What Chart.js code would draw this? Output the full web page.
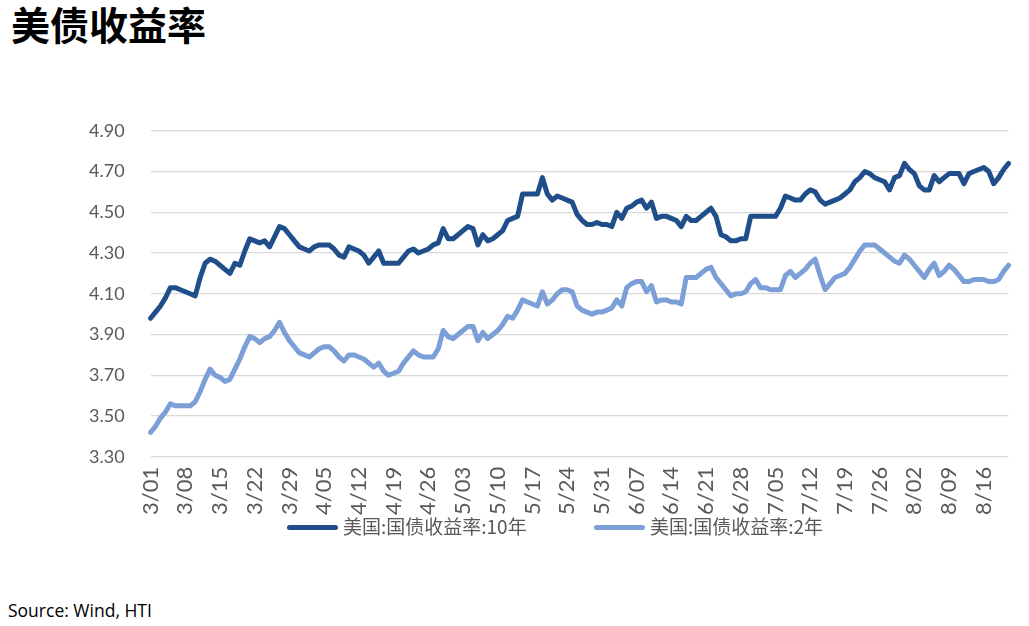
<!DOCTYPE html>
<html>
<head>
<meta charset="utf-8">
<script src="https://cdn.jsdelivr.net/npm/chart.js@4.4.1/dist/chart.umd.min.js"></script>
<style>
  body { margin: 0; background: #fff; }
  #page { position: relative; width: 1029px; height: 626px; overflow: hidden; }
  #title { position: absolute; left: 11px; top: -2px; font: 700 39px/50px "Noto Sans CJK SC", sans-serif; color: #000; }
  #wrap { position: absolute; left: 0; top: 94px; width: 1045px; height: 442px; }
  .leg { position: absolute; top: 513px; height: 26px; font: 19px/26px "Noto Sans CJK SC", sans-serif; color: #595959; white-space: nowrap; }
  .leg span { display: inline-block; width: 51px; height: 5px; border-radius: 3px; vertical-align: middle; margin-right: 5px; position: relative; top: -1px; }
  #source { position: absolute; left: 8px; top: 598px; font: 17.5px "Open Sans", sans-serif; color: #000; }
</style>
</head>
<body>
<div id="page">
  <div id="title">美债收益率</div>
  <div id="wrap"><canvas id="c"></canvas></div>
  <div class="leg" style="left:287px"><span style="background:#1F4E8A"></span>美国:国债收益率:10年</div>
  <div class="leg" style="left:594px"><span style="background:#7C9FD8"></span>美国:国债收益率:2年</div>
  <div id="source">Source: Wind, HTI</div>
</div>
<script>
// 数据:3/01 到 8/21 的每日收益率(%)
const seriesNames = ['美国:国债收益率:10年', '美国:国债收益率:2年'];

const yield10y = [
  3.98,4.01,4.04,4.08,4.13,4.13,4.12,4.11,4.10,4.09,
  4.18,4.25,4.27,4.26,4.24,4.22,4.20,4.25,4.24,4.31,
  4.37,4.36,4.35,4.36,4.33,4.38,4.43,4.42,4.39,4.36,
  4.33,4.32,4.31,4.33,4.34,4.34,4.34,4.32,4.29,4.28,
  4.33,4.32,4.31,4.29,4.25,4.28,4.31,4.25,4.25,4.25,
  4.25,4.28,4.31,4.32,4.30,4.31,4.32,4.34,4.35,4.42,
  4.37,4.37,4.39,4.41,4.43,4.42,4.34,4.39,4.36,4.37,
  4.39,4.41,4.46,4.47,4.48,4.59,4.59,4.59,4.59,4.67,
  4.59,4.56,4.58,4.57,4.56,4.55,4.49,4.46,4.44,4.44,
  4.45,4.44,4.44,4.43,4.50,4.47,4.52,4.53,4.55,4.56,
  4.52,4.55,4.47,4.48,4.48,4.47,4.46,4.43,4.48,4.46,
  4.46,4.48,4.50,4.52,4.48,4.39,4.38,4.36,4.36,4.37,
  4.37,4.48,4.48,4.48,4.48,4.48,4.48,4.52,4.58,4.57,
  4.56,4.56,4.59,4.61,4.60,4.56,4.54,4.55,4.56,4.57,
  4.59,4.61,4.65,4.67,4.70,4.69,4.67,4.66,4.65,4.61,
  4.67,4.68,4.74,4.71,4.69,4.63,4.61,4.61,4.68,4.65,
  4.67,4.69,4.69,4.69,4.64,4.69,4.70,4.71,4.72,4.70,
  4.64,4.67,4.71,4.74
];

const yield2y = [
  3.42,3.45,3.49,3.52,3.56,3.55,3.55,3.55,3.55,3.57,
  3.62,3.68,3.73,3.70,3.69,3.67,3.68,3.73,3.78,3.84,
  3.89,3.88,3.86,3.88,3.89,3.92,3.96,3.91,3.87,3.84,
  3.81,3.80,3.79,3.81,3.83,3.84,3.84,3.82,3.79,3.77,
  3.80,3.80,3.79,3.78,3.76,3.74,3.76,3.72,3.70,3.71,
  3.72,3.76,3.79,3.82,3.80,3.79,3.79,3.79,3.83,3.92,
  3.89,3.88,3.90,3.92,3.94,3.94,3.87,3.91,3.88,3.90,
  3.92,3.95,3.99,3.98,4.02,4.07,4.06,4.05,4.04,4.11,
  4.05,4.07,4.10,4.12,4.12,4.11,4.04,4.02,4.01,4.00,
  4.01,4.01,4.02,4.03,4.07,4.04,4.13,4.15,4.16,4.16,
  4.11,4.14,4.06,4.07,4.07,4.06,4.06,4.05,4.18,4.18,
  4.18,4.20,4.22,4.23,4.18,4.15,4.12,4.09,4.10,4.10,
  4.11,4.15,4.17,4.13,4.13,4.12,4.12,4.12,4.19,4.21,
  4.18,4.20,4.22,4.25,4.27,4.19,4.12,4.15,4.18,4.19,
  4.20,4.23,4.27,4.31,4.34,4.34,4.34,4.32,4.30,4.28,
  4.26,4.25,4.29,4.27,4.24,4.21,4.18,4.22,4.25,4.19,
  4.21,4.24,4.22,4.19,4.16,4.16,4.17,4.17,4.17,4.16,
  4.16,4.17,4.21,4.24
];

// 只显示每周一个的日期标签
const tickLabels = ['3/01','3/08','3/15','3/22','3/29','4/05','4/12','4/19','4/26',
  '5/03','5/10','5/17','5/24','5/31','6/07','6/14','6/21','6/28',
  '7/05','7/12','7/19','7/26','8/02','8/09','8/16'];

// 日期类别:从 3/01 开始的每一天
const dates = [];
for (let i = 0; i < yield10y.length; i++) {
  const d = new Date(2024, 2, 1 + i);
  dates.push((d.getMonth() + 1) + '/' + String(d.getDate()).padStart(2, '0'));
}

const gray = '#595959';

new Chart(document.getElementById('c'), {
  type: 'line',
  data: {
    labels: dates,
    datasets: [
      { label: seriesNames[0], data: yield10y, borderColor: '#1F4E8A', borderWidth: 5 },
      { label: seriesNames[1], data: yield2y, borderColor: '#7C9FD8', borderWidth: 5 }
    ]
  },
  options: {
    responsive: true,
    maintainAspectRatio: false,
    animation: false,
    layout: { padding: { left: 63, right: 5, top: 20, bottom: 11 } },
    elements: {
      point: { radius: 0 },
      line: { tension: 0, borderJoinStyle: 'round', borderCapStyle: 'round' }
    },
    plugins: { legend: { display: false }, tooltip: { enabled: false } },
    scales: {
      x: {
        offset: false,
        grid: { display: false, drawTicks: false },
        border: { display: false },
        ticks: {
          autoSkip: false,
          minRotation: 90,
          maxRotation: 90,
          padding: 10,
          color: gray,
          font: { family: 'Lato', size: 22 },
          callback: (v, i) => tickLabels.includes(dates[i]) ? dates[i] : ''
        }
      },
      y: {
        min: 3.3,
        max: 4.9,
        grid: { color: '#d9d9d9', lineWidth: 1.3, drawTicks: false },
        border: { display: false },
        ticks: {
          stepSize: 0.2,
          padding: 26,
          color: gray,
          font: { family: 'Lato', size: 18 },
          callback: v => Number(v).toFixed(2)
        }
      }
    }
  }
});
</script>
</body>
</html>
